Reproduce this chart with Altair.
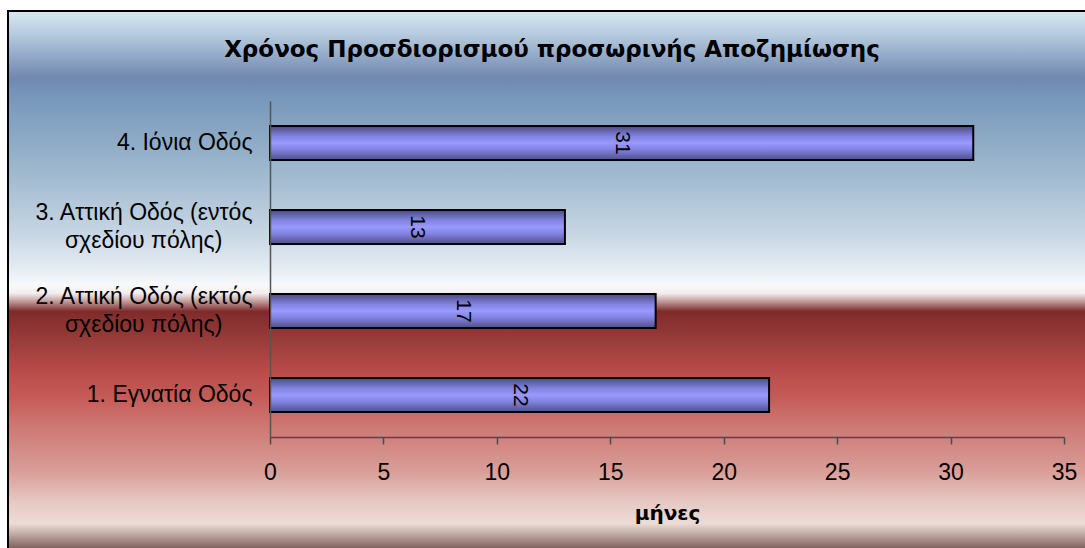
import altair as alt
import pandas as pd

roads = [
    "4. Ιόνια Οδός",
    "3. Αττική Οδός (εντός\nσχεδίου πόλης)",
    "2. Αττική Οδός (εκτός\nσχεδίου πόλης)",
    "1. Εγνατία Οδός",
]
months = [31, 13, 17, 22]
x_ticks = [0, 5, 10, 15, 20, 25, 30, 35]
title_text = "Χρόνος Προσδιορισμού προσωρινής Αποζημίωσης"
x_title = "μήνες"

df = pd.DataFrame({"road": roads, "months": months})

W, H = 794, 336

bg_grad = alt.LinearGradient(
    gradient="linear", x1=0, x2=0, y1=0, y2=1,
    stops=[
        alt.GradientStop(offset=0.0, color="#d9e8f2"),
        alt.GradientStop(offset=0.04, color="#b8cde0"),
        alt.GradientStop(offset=0.122, color="#7188b0"),
        alt.GradientStop(offset=0.16, color="#7898bb"),
        alt.GradientStop(offset=0.28, color="#9ab5cc"),
        alt.GradientStop(offset=0.41, color="#c8d7e4"),
        alt.GradientStop(offset=0.475, color="#e8eef4"),
        alt.GradientStop(offset=0.50, color="#f8f9fb"),
        alt.GradientStop(offset=0.515, color="#f4eeee"),
        alt.GradientStop(offset=0.53, color="#c09a98"),
        alt.GradientStop(offset=0.548, color="#7f2b2b"),
        alt.GradientStop(offset=0.60, color="#983c3a"),
        alt.GradientStop(offset=0.657, color="#b84c4a"),
        alt.GradientStop(offset=0.702, color="#c45a56"),
        alt.GradientStop(offset=0.75, color="#cc7470"),
        alt.GradientStop(offset=0.84, color="#d99e98"),
        alt.GradientStop(offset=0.895, color="#e6c8c3"),
        alt.GradientStop(offset=0.935, color="#ecdcd6"),
        alt.GradientStop(offset=0.952, color="#c8b2ab"),
        alt.GradientStop(offset=0.982, color="#7a5c58"),
        alt.GradientStop(offset=1.0, color="#6a4a45"),
    ],
)

bar_grad = alt.LinearGradient(
    gradient="linear", x1=0, x2=0, y1=0, y2=1,
    stops=[
        alt.GradientStop(offset=0.0, color="#4a4a82"),
        alt.GradientStop(offset=0.3, color="#8282e0"),
        alt.GradientStop(offset=0.5, color="#9999ff"),
        alt.GradientStop(offset=0.7, color="#8282e0"),
        alt.GradientStop(offset=1.0, color="#4e4e88"),
    ],
)

bg = alt.Chart(alt.Data(values=[{"k": 1}])).mark_rect(
    fill=bg_grad, stroke="black", strokeWidth=2
).encode(
    x=alt.value(-262), x2=alt.value(W + 40),
    y=alt.value(-90), y2=alt.value(H + 122),
)

# second line of a two-line label is centred under the first one
pad = "\u00a0\u00a0\u00a0\u00a0\u2009\u200b"
label_expr = (
    "indexof(datum.label, '\\n') > 0 ? "
    "[split(datum.label, '\\n')[0], split(datum.label, '\\n')[1] + '" + pad + "'] "
    ": datum.label"
)
multi_line_test = "indexof(datum.value, '\\n') > 0"

y_enc = alt.Y(
    "road:N", sort=roads,
    scale=alt.Scale(paddingInner=0.595, paddingOuter=0.2975),
    axis=alt.Axis(
        title=None, ticks=False, tickSize=0, labelPadding=18,
        labelFont="Liberation Sans", labelFontSize=23, labelColor="black",
        labelLineHeight=28, labelExpr=label_expr, labelLimit=400,
        labelOffset={"condition": {"test": multi_line_test, "value": -14}, "value": 0},
        domainColor="#555555", domainWidth=1.5, grid=False, zindex=1,
    ),
)

x_enc = alt.X(
    "months:Q",
    scale=alt.Scale(domain=[0, 35], nice=False),
    axis=alt.Axis(
        values=x_ticks, title=x_title, grid=False, zindex=1,
        tickSize=7, tickColor="#4a4a4a", tickWidth=1.5,
        domainColor="#4a4a4a", domainWidth=1.5,
        labelFont="Liberation Sans", labelFontSize=23, labelColor="black",
        labelPadding=17, labelFlush=False,
        titleFont="DejaVu Sans", titleFontSize=20, titleFontWeight="bold",
        titleColor="black", titlePadding=19,
    ),
)

bars = alt.Chart(df).mark_bar(
    fill=bar_grad, stroke="black", strokeWidth=2
).encode(x=x_enc, y=y_enc)

labels = alt.Chart(df).transform_calculate(
    mid="datum.months / 2"
).mark_text(
    angle=90, align="center", baseline="middle",
    font="Liberation Sans", fontSize=21, color="black",
).encode(
    x=alt.X("mid:Q"),
    y=alt.Y("road:N", sort=roads),
    text=alt.Text("months:Q"),
)

chart = alt.layer(bg, bars, labels).properties(
    width=W, height=H,
    autosize=alt.AutoSizeParams(type="none"),
    padding={"left": 270, "top": 101, "right": 21, "bottom": 111},
    background="white",
    title=alt.TitleParams(
        text=title_text, font="DejaVu Sans", fontSize=23, fontWeight="bold",
        color="black", anchor="middle", dx=-115, dy=56,
    ),
).configure_view(stroke=None)

chart.save("out.html", embed_options={"renderer": "svg", "actions": False})
